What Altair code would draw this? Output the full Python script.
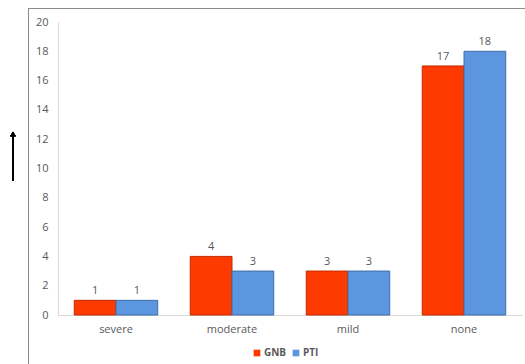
import altair as alt
import pandas as pd

# Severity categories and counts per group
categories = ["severe", "moderate", "mild", "none"]
gnb_counts = [1, 4, 3, 17]
pti_counts = [1, 3, 3, 18]
groups = ["GNB", "PTI"]

rows = []
for cat, g, p in zip(categories, gnb_counts, pti_counts):
    rows.append({"severity": cat, "group": "GNB", "count": g})
    rows.append({"severity": cat, "group": "PTI", "count": p})
df = pd.DataFrame(rows)

FONT = "Open Sans"
TXT = "#595959"

x_enc = alt.X(
    "severity:N",
    sort=categories,
    scale=alt.Scale(paddingInner=0.28, paddingOuter=0.14),
    axis=alt.Axis(
        title=None, labelAngle=0, ticks=False, labelPadding=8,
        domainColor="#D9D9D9", labelColor=TXT, labelFont=FONT, labelFontSize=11,
    ),
)
y_enc = alt.Y(
    "count:Q",
    scale=alt.Scale(domain=[0, 20]),
    axis=alt.Axis(
        title=None, values=list(range(0, 21, 2)), grid=False, ticks=False,
        labelOverlap=False, labelPadding=10, domainColor="#D9D9D9",
        labelColor=TXT, labelFont=FONT, labelFontSize=11,
    ),
)

bars = alt.Chart(df).mark_bar(strokeWidth=1).encode(
    x=x_enc,
    y=y_enc,
    xOffset=alt.XOffset("group:N", sort=groups),
    color=alt.Color(
        "group:N",
        sort=groups,
        scale=alt.Scale(domain=groups, range=["#FF3A00", "#5B96DE"]),
        legend=alt.Legend(
            title=None, orient="none", direction="horizontal",
            legendX=194, legendY=326, symbolType="square", symbolSize=45,
            symbolStrokeWidth=0, labelFont=FONT, labelFontSize=10,
            labelFontWeight="bold", labelColor=TXT, columnPadding=4,
            labelOffset=2,
        ),
    ),
    stroke=alt.Stroke(
        "group:N", sort=groups,
        scale=alt.Scale(domain=groups, range=["#C02A00", "#3E6EA8"]),
        legend=None,
    ),
)

labels = alt.Chart(df).mark_text(
    dy=-9, font=FONT, fontSize=11, color=TXT
).encode(
    x=x_enc,
    y=y_enc,
    xOffset=alt.XOffset("group:N", sort=groups),
    text="count:Q",
)

# Outer frame: top and left edges, as thin filled rects
frame_top = alt.Chart(df).mark_rect(color="#8C8C8C").encode(
    x=alt.value(-30), x2=alt.value(467), y=alt.value(-14), y2=alt.value(-13),
)
frame_left = alt.Chart(df).mark_rect(color="#8C8C8C").encode(
    x=alt.value(-30), x2=alt.value(-29), y=alt.value(-14), y2=alt.value(345),
)

# Upward arrow at the left
arrow_shaft = alt.Chart(df).mark_rule(color="#000000", strokeWidth=1).encode(
    x=alt.value(-45), y=alt.value(111), y2=alt.value(159),
)
arrow_head = alt.Chart(df).mark_point(
    shape="triangle-up", filled=True, color="#000000", size=30, opacity=1
).encode(
    x=alt.value(-45), y=alt.value(112),
)

chart = alt.layer(
    frame_top, frame_left, bars, labels, arrow_shaft, arrow_head
).properties(
    width=464, height=293,
    padding={"left": 58, "top": 22, "right": 3, "bottom": 49},
    autosize=alt.AutoSizeParams(type="none"),
    background="#FFFFFF",
).configure_view(stroke="transparent", strokeWidth=0)

chart.save("out.html", embed_options={"renderer": "svg", "actions": False})
